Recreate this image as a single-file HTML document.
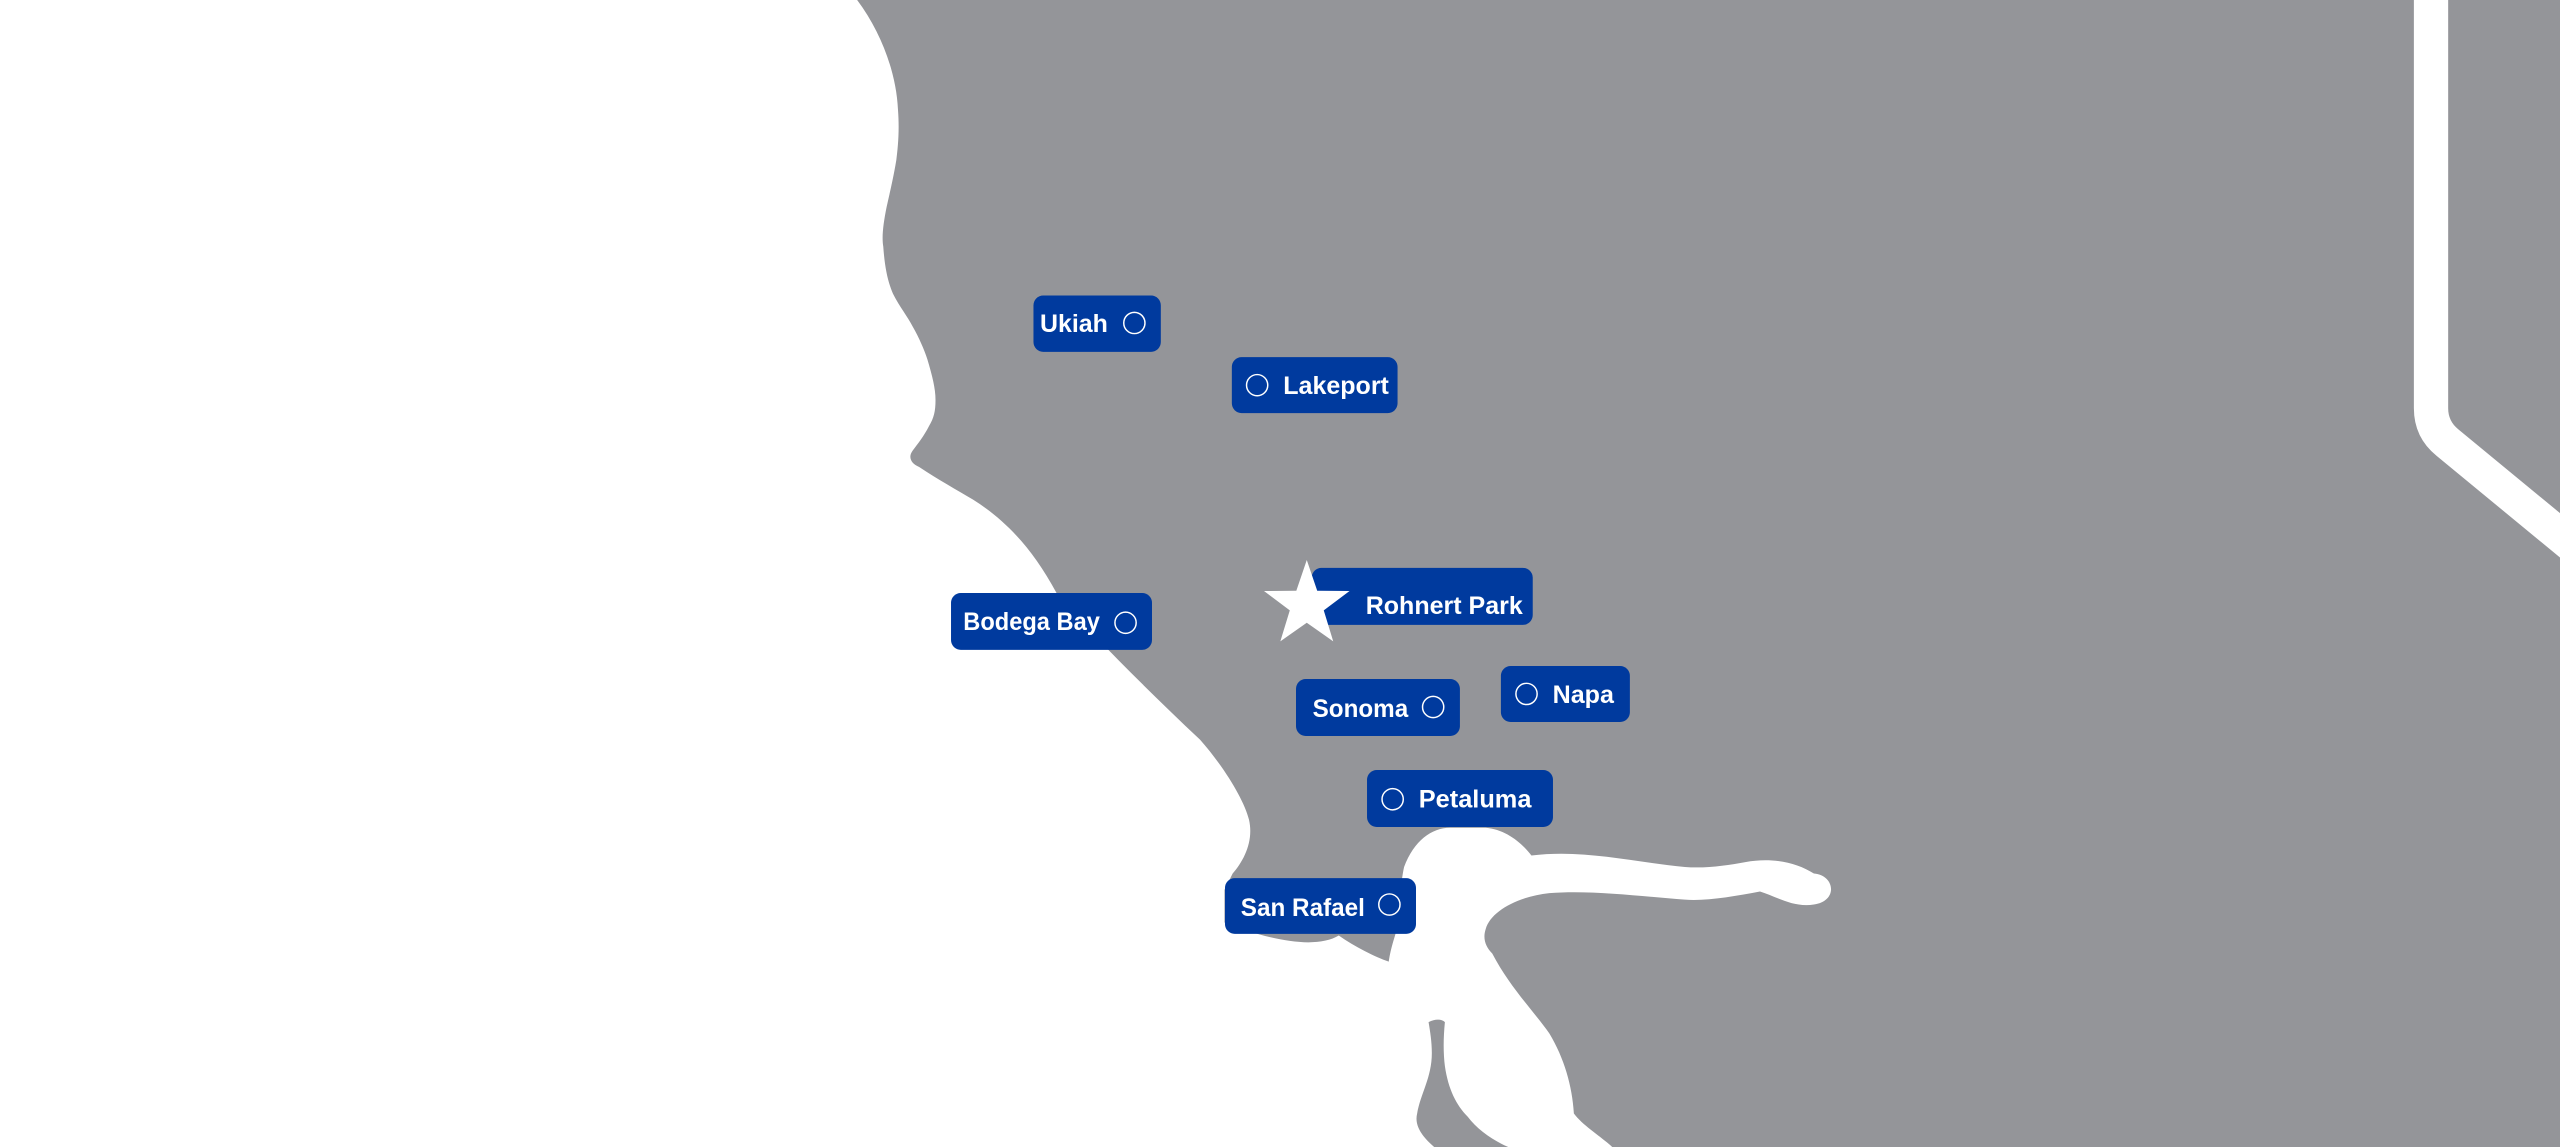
<!DOCTYPE html>
<html><head><meta charset="utf-8"><style>
html,body{margin:0;padding:0;background:#fff;overflow:hidden}
svg{display:block}
text{font-family:"Liberation Sans",sans-serif;font-weight:bold;font-size:15.5px;fill:#fff}
</style></head><body>
<svg width="2560" height="1147" viewBox="0 0 1568 702.5" preserveAspectRatio="none" xmlns="http://www.w3.org/2000/svg">
<rect width="1568" height="703" fill="#fff"/>
<path fill="#949599" d="M525,0 C540,20 549,45 550,67 C551,80 550,90 549,98 C547,110 545,118 543,127 C541,137 540,145 541,151 C542,165 544,173 547,180 C551,188 556,194 559,200 C563,207 566,214 568,220 C571,230 573,238 573,245 C573,252 572,256 569,261 C566,267 562,272 559,276 C556,280 558,284 563,286 C575,294 586,300 596,306 C615,318 632,335 647,363 C665,385 700,420 735,453 C750,470 762,490 765,502 C768,515 762,527 755,535 L750,545 L750,565 C775,575 805,582 820,573 C830,580 842,586 850.6,589 C852,580 854,575 855,571 C857,555 858,540 860,531 C866,515 877,507 888,507 L910,507 C922,508 932,516 938,524 C970,520 1000,528 1032,531 C1045,532 1058,530 1069,528 C1085,525 1100,528 1111,535 C1124,536 1126,552 1111,554 C1098,556 1088,549 1078,546 C1062,549 1045,552 1032,551 C1005,549 975,545 949,547 C930,549 913,558 910,569 C908,575 910,580 914,584 C925,605 940,620 949,633 C958,648 963,665 964,682 C970,690 982,697 988,703 L1568,703 L1568,0 Z"/>
<path fill="#949599" d="M875,626 C879,624 883,624 885,626 C884,636 884,645 885,653 C887,667 892,677 899,684 C905,692 915,699 925,703 L879,703 C872,697 866,690 868,682 C870,670 877,660 877,645 C877,638 876,632 875,626 Z"/>
<path d="M1489,-5 L1489,250 Q1489,263 1499,271 L1590,346" fill="none" stroke="#fff" stroke-width="21"/>

<rect x="633" y="181" width="78" height="34.5" rx="6" fill="#003a9e"/>
<text x="637" y="203.4" textLength="41.6" lengthAdjust="spacingAndGlyphs">Ukiah</text>
<circle cx="694.8" cy="197.8" r="6.5" fill="none" stroke="#fff" stroke-width="0.9"/>

<rect x="754.5" y="218.7" width="101.5" height="34.3" rx="6" fill="#003a9e"/>
<circle cx="770" cy="235.9" r="6.5" fill="none" stroke="#fff" stroke-width="0.9"/>
<text x="786" y="241.3" textLength="64.7" lengthAdjust="spacingAndGlyphs">Lakeport</text>

<rect x="803.4" y="347.8" width="135.4" height="34.9" rx="6" fill="#003a9e"/>
<text x="836.5" y="376" textLength="96.2" lengthAdjust="spacingAndGlyphs">Rohnert Park</text>
<polygon fill="#fff" points="800.4,343 806.8,361.8 826.6,362 810.8,373.8 816.6,392.8 800.4,381.4 784.2,392.8 790,373.8 774.2,362 794,361.8"/>

<rect x="582.5" y="363.2" width="123.1" height="34.8" rx="6" fill="#003a9e"/>
<text x="590" y="386" textLength="83.7" lengthAdjust="spacingAndGlyphs">Bodega Bay</text>
<circle cx="689.4" cy="381.4" r="6.5" fill="none" stroke="#fff" stroke-width="0.9"/>

<rect x="793.8" y="415.9" width="100.4" height="34.9" rx="6" fill="#003a9e"/>
<text x="804" y="439" textLength="58.5" lengthAdjust="spacingAndGlyphs">Sonoma</text>
<circle cx="877.8" cy="433" r="6.5" fill="none" stroke="#fff" stroke-width="0.9"/>

<rect x="919.3" y="407.9" width="79" height="34.3" rx="6" fill="#003a9e"/>
<circle cx="935" cy="425" r="6.5" fill="none" stroke="#fff" stroke-width="0.9"/>
<text x="951" y="430.6" textLength="37.5" lengthAdjust="spacingAndGlyphs">Napa</text>

<rect x="837.3" y="471.6" width="113.9" height="34.9" rx="6" fill="#003a9e"/>
<circle cx="853" cy="489.5" r="6.5" fill="none" stroke="#fff" stroke-width="0.9"/>
<text x="869" y="494.5" textLength="69" lengthAdjust="spacingAndGlyphs">Petaluma</text>

<rect x="750.3" y="537.8" width="117" height="34.2" rx="6" fill="#003a9e"/>
<text x="760" y="561" textLength="76" lengthAdjust="spacingAndGlyphs">San Rafael</text>
<circle cx="851" cy="554" r="6.5" fill="none" stroke="#fff" stroke-width="0.9"/>
</svg>
</body></html>
